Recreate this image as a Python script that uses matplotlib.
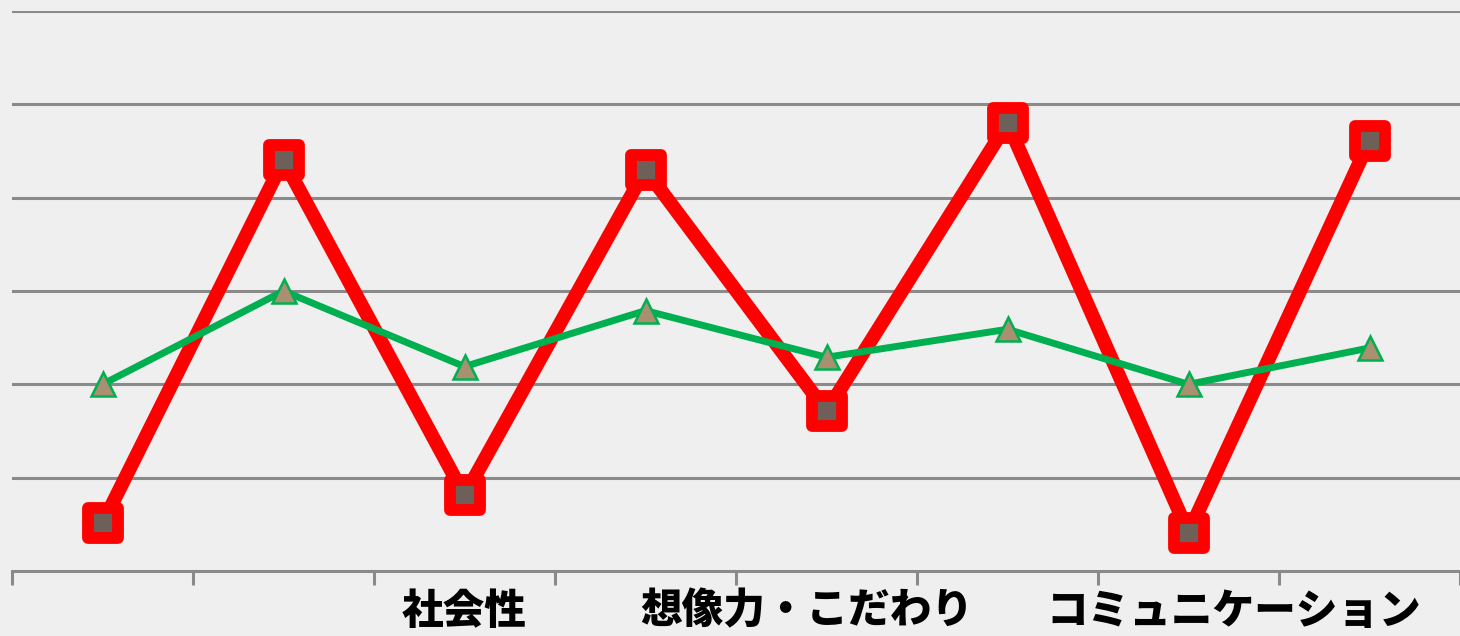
import matplotlib.pyplot as plt
from matplotlib.markers import MarkerStyle
import numpy as np

plt.rcParams['font.family'] = ['Noto Sans CJK JP', 'DejaVu Sans']

# values (gridline = 1 unit)
red_vals = [0.51, 4.40, 0.81, 4.30, 1.71, 4.80, 0.41, 4.61]
green_vals = [2.0, 3.0, 2.19, 2.79, 2.29, 2.59, 2.0, 2.39]
label_texts = ['社会性', '想像力・こだわり', 'コミュニケーション']
label_pos = [2.0, 3.89, 6.25]

bg = '#efefef'
grid_col = '#8a8a8a'

fig = plt.figure(figsize=(14.6, 6.36), dpi=100, facecolor=bg)
ax = fig.add_axes([12 / 1460, 65 / 636, 1448 / 1460, 560 / 636])
ax.set_facecolor(bg)

x = np.arange(len(red_vals))

sq = MarkerStyle('s', joinstyle='round')
ax.plot(x, red_vals, color='#ff0000', lw=10, solid_joinstyle='miter',
        marker=sq, ms=21, mew=8.5, mfc='#6e6058', mec='#ff0000', zorder=3)
ax.plot(x, green_vals, color='#00b050', lw=5,
        marker='^', ms=17, mew=1.8, mfc='#a89070', mec='#00b050', zorder=4)

ax.set_xlim(-0.5, len(red_vals) - 0.5)
ax.set_ylim(0, 6)
ax.set_yticks(np.arange(1, 7))
ax.yaxis.grid(True, color=grid_col, lw=2.2)
ax.set_axisbelow(True)
ax.tick_params(axis='y', left=False, labelleft=False)

for s in ['top', 'right', 'left']:
    ax.spines[s].set_visible(False)
ax.spines['bottom'].set_color(grid_col)
ax.spines['bottom'].set_linewidth(2.2)

ax.set_xticks(np.arange(-0.5, len(red_vals)), minor=False)
ax.set_xticklabels([])
ax.tick_params(axis='x', length=10, width=2.2, color=grid_col, direction='out')

for t, p in zip(label_texts, label_pos):
    ax.text(p, -0.035, t, transform=ax.get_xaxis_transform(), ha='center', va='top',
            fontsize=30, fontweight='heavy', color='black', clip_on=False)

fig.savefig('out.png', dpi=100, facecolor=bg)
